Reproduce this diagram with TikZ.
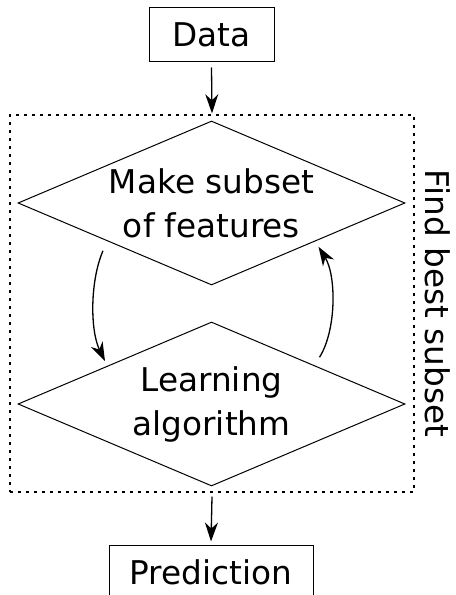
\documentclass[tikz,border=0pt]{standalone}
\usepackage{fontspec}
\setmainfont{DejaVu Sans}
\usetikzlibrary{shapes.geometric,arrows.meta}
\begin{document}
\begin{tikzpicture}[x=1bp,y=-1bp,
  txt/.style={font=\fontsize{32.7bp}{44bp}\selectfont},
  rbox/.style={txt, draw, line width=1bp, inner sep=0pt, minimum height=54bp},
  dia/.style={txt, draw, diamond, aspect=2.36, inner sep=0pt, minimum width=387bp, minimum height=164bp, align=center, line width=1bp},
  arr/.style={-{Stealth[length=19bp,width=13bp,inset=6bp]}, line width=1.3bp},
  dotbox/.style={draw, line width=1.4bp, dash pattern=on 3bp off 5bp, inner sep=0pt}]
\useasboundingbox (0,0) rectangle (456,595);
\node[rbox, minimum width=125bp] (data) at (211.5,35) {Data};
\node[dotbox, minimum width=404bp, minimum height=377bp] (region) at (212,303.5) {};
\node[txt, rotate=-90, inner sep=0pt] (label) at ([xshift=23bp]region.east) {Find best subset};
\node[dia] (d1) at (211.5,203) {Make subset\\of features};
\node[dia] (d2) at (211.5,404) {Learning\\algorithm};
\node[rbox, minimum width=204bp] (pred) at (211,572) {Prediction};
\draw[arr] ([yshift=-5bp]data.south) -- ([yshift=1bp]region.north);
\draw[arr] ([yshift=-4bp]region.south) -- ([yshift=3bp]pred.north);
\draw[arr] ([shift={(-11.5,6.5)}]d1.south west) .. controls +(-13,30) and +(-15,-31) .. ([shift={(-9.5,-1.5)}]d2.north west);
\draw[arr] ([shift={(11,-5.5)}]d2.north east) .. controls +(17,-27) and +(18,29) .. ([shift={(10,2.5)}]d1.south east);
\end{tikzpicture}
\end{document}
